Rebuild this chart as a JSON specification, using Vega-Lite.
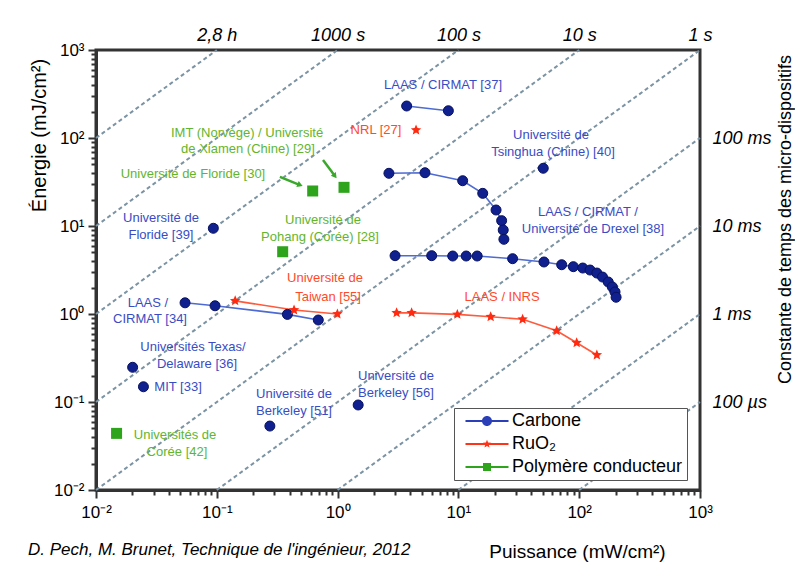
{
  "$schema": "https://vega.github.io/schema/vega-lite/v6.json",
  "width": 604,
  "height": 440,
  "autosize": {"type": "none"},
  "padding": {"left": 96, "top": 50, "right": 95, "bottom": 84},
  "background": "white",
  "config": {
    "font": "Liberation Sans",
    "view": {"stroke": "#333333", "strokeWidth": 3},
    "axis": {"grid": false}
  },
  "title": {
    "text": "D. Pech, M. Brunet, Technique de l'ingénieur, 2012",
    "orient": "bottom",
    "anchor": "start",
    "frame": "group",
    "fontSize": 17,
    "fontStyle": "italic",
    "fontWeight": "normal",
    "color": "black",
    "offset": 0,
    "dx": -68,
    "dy": -19
  },
  "datasets": {
    "pts": [
      {"series": "C37", "type": "Carbone", "P": 3.73, "E": 231},
      {"series": "C37", "type": "Carbone", "P": 8.26, "E": 204},
      {"series": "C37b", "type": "Carbone", "P": 2.66, "E": 39.7},
      {"series": "C37b", "type": "Carbone", "P": 5.29, "E": 40.3},
      {"series": "C37b", "type": "Carbone", "P": 10.85, "E": 32.7},
      {"series": "C37b", "type": "Carbone", "P": 15.9, "E": 23.5},
      {"series": "C37b", "type": "Carbone", "P": 20.5, "E": 15.2},
      {"series": "C37b", "type": "Carbone", "P": 22.8, "E": 11.5},
      {"series": "C37b", "type": "Carbone", "P": 23.5, "E": 9.0},
      {"series": "C37b", "type": "Carbone", "P": 23.8, "E": 7.06},
      {"series": "C38", "type": "Carbone", "P": 2.99, "E": 4.6},
      {"series": "C38", "type": "Carbone", "P": 6.01, "E": 4.6},
      {"series": "C38", "type": "Carbone", "P": 8.97, "E": 4.56},
      {"series": "C38", "type": "Carbone", "P": 11.6, "E": 4.56},
      {"series": "C38", "type": "Carbone", "P": 14.3, "E": 4.56},
      {"series": "C38", "type": "Carbone", "P": 28.1, "E": 4.25},
      {"series": "C38", "type": "Carbone", "P": 51.1, "E": 3.9},
      {"series": "C38", "type": "Carbone", "P": 71.6, "E": 3.63},
      {"series": "C38", "type": "Carbone", "P": 89.4, "E": 3.45},
      {"series": "C38", "type": "Carbone", "P": 107, "E": 3.33},
      {"series": "C38", "type": "Carbone", "P": 123, "E": 3.16},
      {"series": "C38", "type": "Carbone", "P": 140, "E": 2.92},
      {"series": "C38", "type": "Carbone", "P": 156, "E": 2.63},
      {"series": "C38", "type": "Carbone", "P": 174, "E": 2.31},
      {"series": "C38", "type": "Carbone", "P": 188, "E": 2.03},
      {"series": "C38", "type": "Carbone", "P": 198, "E": 1.78},
      {"series": "C38", "type": "Carbone", "P": 202, "E": 1.55},
      {"series": "C34", "type": "Carbone", "P": 0.0546, "E": 1.34},
      {"series": "C34", "type": "Carbone", "P": 0.0967, "E": 1.24},
      {"series": "C34", "type": "Carbone", "P": 0.384, "E": 0.99},
      {"series": "C34", "type": "Carbone", "P": 0.692, "E": 0.855},
      {"series": "C40", "type": "Carbone", "P": 50.4, "E": 45.3},
      {"series": "C39", "type": "Carbone", "P": 0.0936, "E": 9.42},
      {"series": "C36", "type": "Carbone", "P": 0.0201, "E": 0.248},
      {"series": "C33", "type": "Carbone", "P": 0.0247, "E": 0.149},
      {"series": "C51", "type": "Carbone", "P": 0.275, "E": 0.0533},
      {"series": "C56", "type": "Carbone", "P": 1.48, "E": 0.0925},
      {"series": "R27", "type": "RuO2", "P": 4.46, "E": 123},
      {"series": "R55", "type": "RuO2", "P": 0.142, "E": 1.41},
      {"series": "R55", "type": "RuO2", "P": 0.436, "E": 1.11},
      {"series": "R55", "type": "RuO2", "P": 0.996, "E": 1.0},
      {"series": "RINRS", "type": "RuO2", "P": 3.08, "E": 1.03},
      {"series": "RINRS", "type": "RuO2", "P": 4.1, "E": 1.03},
      {"series": "RINRS", "type": "RuO2", "P": 9.8, "E": 0.99},
      {"series": "RINRS", "type": "RuO2", "P": 18.5, "E": 0.93},
      {"series": "RINRS", "type": "RuO2", "P": 34, "E": 0.87},
      {"series": "RINRS", "type": "RuO2", "P": 65.1, "E": 0.646},
      {"series": "RINRS", "type": "RuO2", "P": 95.3, "E": 0.472},
      {"series": "RINRS", "type": "RuO2", "P": 140, "E": 0.342},
      {"series": "G42", "type": "Polymère conducteur", "P": 0.0148, "E": 0.044},
      {"series": "G28", "type": "Polymère conducteur", "P": 0.351, "E": 5.1},
      {"series": "G30", "type": "Polymère conducteur", "P": 0.622, "E": 25},
      {"series": "G29", "type": "Polymère conducteur", "P": 1.13, "E": 27.5}
    ],
    "tl": [
      {"t": "1e4", "P": 0.01, "E": 100}, {"t": "1e4", "P": 0.1, "E": 1000},
      {"t": "1e3", "P": 0.01, "E": 10}, {"t": "1e3", "P": 1, "E": 1000},
      {"t": "1e2", "P": 0.01, "E": 1}, {"t": "1e2", "P": 10, "E": 1000},
      {"t": "1e1", "P": 0.01, "E": 0.1}, {"t": "1e1", "P": 100, "E": 1000},
      {"t": "1e0", "P": 0.01, "E": 0.01}, {"t": "1e0", "P": 1000, "E": 1000},
      {"t": "1e-1", "P": 0.1, "E": 0.01}, {"t": "1e-1", "P": 1000, "E": 100},
      {"t": "1e-2", "P": 1, "E": 0.01}, {"t": "1e-2", "P": 1000, "E": 10},
      {"t": "1e-3", "P": 10, "E": 0.01}, {"t": "1e-3", "P": 1000, "E": 1},
      {"t": "1e-4", "P": 100, "E": 0.01}, {"t": "1e-4", "P": 1000, "E": 0.1}
    ],
    "lab": [
      {"kind": "c", "text": "LAAS / CIRMAT [37]", "P": 7.46, "E": 400},
      {"kind": "r", "text": "NRL [27]", "P": 2.08, "E": 123},
      {"kind": "c", "text": "Université de", "P": 58.4, "E": 108},
      {"kind": "c", "text": "Tsinghua (Chine) [40]", "P": 60.7, "E": 69.3},
      {"kind": "c", "text": "LAAS / CIRMAT /", "P": 118, "E": 14.4},
      {"kind": "c", "text": "Université de Drexel [38]", "P": 130, "E": 9.25},
      {"kind": "r", "text": "LAAS / INRS", "P": 23.0, "E": 1.56},
      {"kind": "g", "text": "IMT (Norvège) / Université", "P": 0.178, "E": 114},
      {"kind": "g", "text": "de Xiamen (Chine) [29]", "P": 0.181, "E": 75},
      {"kind": "g", "text": "Université de Floride [30]", "P": 0.0635, "E": 39},
      {"kind": "c", "text": "Université de", "P": 0.0345, "E": 12.3},
      {"kind": "c", "text": "Floride [39]", "P": 0.0345, "E": 7.9},
      {"kind": "g", "text": "Université de", "P": 0.757, "E": 11.7},
      {"kind": "g", "text": "Pohang (Corée) [28]", "P": 0.714, "E": 7.5},
      {"kind": "r", "text": "Université de", "P": 0.787, "E": 2.57},
      {"kind": "r", "text": "Taiwan [55]", "P": 0.834, "E": 1.56},
      {"kind": "c", "text": "LAAS /", "P": 0.0269, "E": 1.33},
      {"kind": "c", "text": "CIRMAT [34]", "P": 0.028, "E": 0.877},
      {"kind": "c", "text": "Universités Texas/", "P": 0.0635, "E": 0.422},
      {"kind": "c", "text": "Delaware [36]", "P": 0.0686, "E": 0.27},
      {"kind": "c", "text": "MIT [33]", "P": 0.0478, "E": 0.148},
      {"kind": "c", "text": "Université de", "P": 0.436, "E": 0.123},
      {"kind": "c", "text": "Berkeley [51]", "P": 0.436, "E": 0.079},
      {"kind": "c", "text": "Université de", "P": 3.04, "E": 0.197},
      {"kind": "c", "text": "Berkeley [56]", "P": 3.04, "E": 0.126},
      {"kind": "g", "text": "Universités de", "P": 0.0451, "E": 0.0422},
      {"kind": "g", "text": "Corée [42]", "P": 0.0468, "E": 0.027}
    ],
    "arr": [
      {"id": "a1", "P1": 0.333, "E1": 36.1, "P2": 0.489, "E2": 29.2},
      {"id": "a2", "P1": 0.757, "E1": 56.2, "P2": 0.951, "E2": 37}
    ]
  },
  "layer": [
    {
      "data": {"name": "tl"},
      "mark": {"type": "line", "color": "#7b93a3", "strokeWidth": 2, "strokeDash": [4, 3]},
      "encoding": {
        "x": {
          "field": "P", "type": "quantitative",
          "scale": {"type": "log", "domain": [0.01, 1000], "nice": false},
          "axis": {
            "orient": "bottom",
            "values": [0.01,0.02,0.03,0.04,0.05,0.06,0.07,0.08,0.09,0.1,0.2,0.3,0.4,0.5,0.6,0.7,0.8,0.9,1,2,3,4,5,6,7,8,9,10,20,30,40,50,60,70,80,90,100,200,300,400,500,600,700,800,900,1000],
            "labelExpr": "datum.value == 0.01 ? '10⁻²' : datum.value == 0.1 ? '10⁻¹' : datum.value == 1 ? '10⁰' : datum.value == 10 ? '10¹' : datum.value == 100 ? '10²' : datum.value == 1000 ? '10³' : ''",
            "tickSize": {"condition": {"test": "indexof([0.01,0.1,1,10,100,1000], datum.value) >= 0", "value": 8}, "value": 5},
            "tickWidth": 2, "tickColor": "#333333",
            "domainColor": "#333333", "domainWidth": 3,
            "labelFontSize": 17, "labelColor": "black", "labelPadding": 6,
            "labelFlush": false, "labelOverlap": false,
            "title": "Puissance (mW/cm²)", "titleFontSize": 19, "titleFontWeight": "normal",
            "titleColor": "black", "titleX": 481, "titleY": 67, "titleAlign": "center", "titleBaseline": "alphabetic"
          }
        },
        "y": {
          "field": "E", "type": "quantitative",
          "scale": {"type": "log", "domain": [0.01, 1000], "nice": false},
          "axis": {
            "orient": "left",
            "values": [0.01,0.02,0.03,0.04,0.05,0.06,0.07,0.08,0.09,0.1,0.2,0.3,0.4,0.5,0.6,0.7,0.8,0.9,1,2,3,4,5,6,7,8,9,10,20,30,40,50,60,70,80,90,100,200,300,400,500,600,700,800,900,1000],
            "labelExpr": "datum.value == 0.01 ? '10⁻²' : datum.value == 0.1 ? '10⁻¹' : datum.value == 1 ? '10⁰' : datum.value == 10 ? '10¹' : datum.value == 100 ? '10²' : datum.value == 1000 ? '10³' : ''",
            "tickSize": {"condition": {"test": "indexof([0.01,0.1,1,10,100,1000], datum.value) >= 0", "value": 8}, "value": 5},
            "tickWidth": 2, "tickColor": "#333333",
            "domainColor": "#333333", "domainWidth": 3,
            "labelFontSize": 17, "labelColor": "black", "labelPadding": 4,
            "labelFlush": false, "labelOverlap": false,
            "title": "Énergie (mJ/cm²)", "titleFontSize": 20, "titleFontWeight": "normal",
            "titleColor": "black", "titleAngle": 270, "titleX": -51, "titleY": 85, "titleAlign": "center", "titleBaseline": "alphabetic"
          }
        },
        "detail": {"field": "t"}
      }
    },
    {
      "data": {"name": "pts"},
      "transform": [{"filter": "datum.type == 'Carbone'"}],
      "mark": {"type": "line", "color": "#4d6bd2", "strokeWidth": 1.6},
      "encoding": {
        "x": {"field": "P", "type": "quantitative", "scale": {"type": "log", "domain": [0.01, 1000], "nice": false}, "axis": null},
        "y": {"field": "E", "type": "quantitative", "scale": {"type": "log", "domain": [0.01, 1000], "nice": false}, "axis": null},
        "detail": {"field": "series"}
      }
    },
    {
      "data": {"name": "pts"},
      "transform": [{"filter": "datum.type == 'RuO2'"}],
      "mark": {"type": "line", "color": "#ff5a3c", "strokeWidth": 1.6},
      "encoding": {
        "x": {"field": "P", "type": "quantitative", "scale": {"type": "log", "domain": [0.01, 1000], "nice": false}, "axis": null},
        "y": {"field": "E", "type": "quantitative", "scale": {"type": "log", "domain": [0.01, 1000], "nice": false}, "axis": null},
        "detail": {"field": "series"}
      }
    },
    {
      "data": {"name": "pts"},
      "transform": [{"filter": "datum.type == 'Carbone'"}],
      "mark": {"type": "point", "shape": "circle", "filled": true, "size": 100, "fill": "#10208e", "stroke": "#08125e", "strokeWidth": 1, "opacity": 1},
      "encoding": {
        "x": {"field": "P", "type": "quantitative", "scale": {"type": "log", "domain": [0.01, 1000], "nice": false}, "axis": null},
        "y": {"field": "E", "type": "quantitative", "scale": {"type": "log", "domain": [0.01, 1000], "nice": false}, "axis": null}
      }
    },
    {
      "data": {"name": "pts"},
      "transform": [{"filter": "datum.type == 'RuO2'"}],
      "mark": {"type": "point", "shape": "M0,-1L0.265,-0.364L0.951,-0.309L0.428,0.139L0.588,0.809L0,0.45L-0.588,0.809L-0.428,0.139L-0.951,-0.309L-0.265,-0.364Z", "filled": true, "size": 121, "fill": "#ff2a10", "opacity": 1},
      "encoding": {
        "x": {"field": "P", "type": "quantitative", "scale": {"type": "log", "domain": [0.01, 1000], "nice": false}, "axis": null},
        "y": {"field": "E", "type": "quantitative", "scale": {"type": "log", "domain": [0.01, 1000], "nice": false}, "axis": null}
      }
    },
    {
      "data": {"name": "pts"},
      "transform": [{"filter": "datum.type == 'Polymère conducteur'"}],
      "mark": {"type": "point", "shape": "square", "filled": true, "size": 121, "fill": "#2ea31c", "opacity": 1},
      "encoding": {
        "x": {"field": "P", "type": "quantitative", "scale": {"type": "log", "domain": [0.01, 1000], "nice": false}, "axis": null},
        "y": {"field": "E", "type": "quantitative", "scale": {"type": "log", "domain": [0.01, 1000], "nice": false}, "axis": null}
      }
    },
    {
      "data": {"name": "pts"},
      "transform": [{"filter": "false"}],
      "mark": {"type": "point", "filled": true, "opacity": 1},
      "encoding": {
        "x": {"field": "P", "type": "quantitative", "scale": {"type": "log", "domain": [0.01, 1000], "nice": false}, "axis": null},
        "y": {"field": "E", "type": "quantitative", "scale": {"type": "log", "domain": [0.01, 1000], "nice": false}, "axis": null},
        "color": {
          "field": "type", "type": "nominal",
          "scale": {"domain": ["Carbone", "RuO2", "Polymère conducteur"], "range": ["#2a3fb8", "#ff3318", "#2ea31c"]},
          "legend": {
            "orient": "none", "legendX": 358, "legendY": 358,
            "title": null,
            "labelExpr": "datum.label == 'RuO2' ? 'RuO₂' : datum.label",
            "labelFontSize": 18, "labelColor": "black", "labelFont": "Liberation Sans", "labelLimit": 400,
            "symbolSize": 100, "symbolOpacity": 1, "symbolStrokeWidth": 0,
            "symbolOffset": 20, "labelOffset": 16,
            "rowPadding": 5, "padding": 4,
            "strokeColor": "#555555", "fillColor": "white",
            "encoding": {"legend": {"update": {"strokeWidth": {"value": 2}}}}
          }
        },
        "shape": {
          "field": "type", "type": "nominal",
          "scale": {
            "domain": ["Carbone", "RuO2", "Polymère conducteur"],
            "range": [
              "M-4.3,-0.2H4.3V0.2H-4.3Z M-1,0A1,1 0 1,1 1,0A1,1 0 1,1 -1,0Z",
              "M-4.3,-0.2H4.3V0.2H-4.3Z M0,-0.85L0.225,-0.31L0.81,-0.26L0.36,0.12L0.5,0.69L0,0.38L-0.5,0.69L-0.36,0.12L-0.81,-0.26L-0.225,-0.31Z",
              "M-4.3,-0.2H4.3V0.2H-4.3Z M-0.8,-0.8H0.8V0.8H-0.8Z"
            ]
          }
        }
      }
    },
    {
      "data": {"name": "arr"},
      "mark": {"type": "rule", "color": "#3aa82a", "strokeWidth": 2.5},
      "encoding": {
        "x": {"field": "P1", "type": "quantitative", "scale": {"type": "log", "domain": [0.01, 1000], "nice": false}, "axis": null},
        "y": {"field": "E1", "type": "quantitative", "scale": {"type": "log", "domain": [0.01, 1000], "nice": false}, "axis": null},
        "x2": {"field": "P2"},
        "y2": {"field": "E2"}
      }
    },
    {
      "data": {"name": "arr"},
      "transform": [{"filter": "datum.id == 'a1'"}],
      "mark": {"type": "point", "shape": "triangle-up", "filled": true, "size": 40, "fill": "#3aa82a", "opacity": 1, "angle": 112},
      "encoding": {
        "x": {"field": "P2", "type": "quantitative", "scale": {"type": "log", "domain": [0.01, 1000], "nice": false}, "axis": null},
        "y": {"field": "E2", "type": "quantitative", "scale": {"type": "log", "domain": [0.01, 1000], "nice": false}, "axis": null}
      }
    },
    {
      "data": {"name": "arr"},
      "transform": [{"filter": "datum.id == 'a2'"}],
      "mark": {"type": "point", "shape": "triangle-up", "filled": true, "size": 40, "fill": "#3aa82a", "opacity": 1, "angle": 143},
      "encoding": {
        "x": {"field": "P2", "type": "quantitative", "scale": {"type": "log", "domain": [0.01, 1000], "nice": false}, "axis": null},
        "y": {"field": "E2", "type": "quantitative", "scale": {"type": "log", "domain": [0.01, 1000], "nice": false}, "axis": null}
      }
    },
    {
      "data": {"name": "lab"},
      "transform": [{"filter": "datum.kind == 'c'"}],
      "mark": {"type": "text", "color": "#3a4cc4", "fontSize": 13, "align": "center", "baseline": "middle", "font": "Liberation Sans"},
      "encoding": {
        "x": {
          "field": "P", "type": "quantitative",
          "scale": {"type": "log", "domain": [0.01, 1000], "nice": false},
          "axis": {
            "orient": "top",
            "values": [0.1, 1, 10, 100, 1000],
            "labelExpr": "datum.value == 0.1 ? '2,8 h' : datum.value == 1 ? '1000 s' : datum.value == 10 ? '100 s' : datum.value == 100 ? '10 s' : '1 s'",
            "ticks": false, "domain": false,
            "labelFontSize": 18, "labelFontStyle": "italic", "labelColor": "black",
            "labelPadding": 10, "labelBaseline": "alphabetic",
            "labelFlush": false, "labelOverlap": false,
            "title": null
          }
        },
        "y": {
          "field": "E", "type": "quantitative",
          "scale": {"type": "log", "domain": [0.01, 1000], "nice": false},
          "axis": {
            "orient": "right",
            "values": [0.1, 1, 10, 100],
            "labelExpr": "datum.value == 100 ? '100 ms' : datum.value == 10 ? '10 ms' : datum.value == 1 ? '1 ms' : '100 µs'",
            "ticks": false, "domain": false,
            "labelFontSize": 18, "labelFontStyle": "italic", "labelColor": "black",
            "labelPadding": 12, "labelBaseline": "middle",
            "labelFlush": false, "labelOverlap": false,
            "title": "Constante de temps des micro-dispositifs",
            "titleFontSize": 18, "titleFontWeight": "normal", "titleColor": "black",
            "titleAngle": 270, "titleX": 90, "titleY": 169, "titleAlign": "center", "titleBaseline": "alphabetic"
          }
        },
        "text": {"field": "text"}
      }
    },
    {
      "data": {"name": "lab"},
      "transform": [{"filter": "datum.kind == 'r'"}],
      "mark": {"type": "text", "color": "#ff4a2a", "fontSize": 13, "align": "center", "baseline": "middle", "font": "Liberation Sans"},
      "encoding": {
        "x": {"field": "P", "type": "quantitative", "scale": {"type": "log", "domain": [0.01, 1000], "nice": false}, "axis": null},
        "y": {"field": "E", "type": "quantitative", "scale": {"type": "log", "domain": [0.01, 1000], "nice": false}, "axis": null},
        "text": {"field": "text"}
      }
    },
    {
      "data": {"name": "lab"},
      "transform": [{"filter": "datum.kind == 'g'"}],
      "mark": {"type": "text", "color": "#62b52e", "fontSize": 13, "align": "center", "baseline": "middle", "font": "Liberation Sans"},
      "encoding": {
        "x": {"field": "P", "type": "quantitative", "scale": {"type": "log", "domain": [0.01, 1000], "nice": false}, "axis": null},
        "y": {"field": "E", "type": "quantitative", "scale": {"type": "log", "domain": [0.01, 1000], "nice": false}, "axis": null},
        "text": {"field": "text"}
      }
    }
  ]
}
